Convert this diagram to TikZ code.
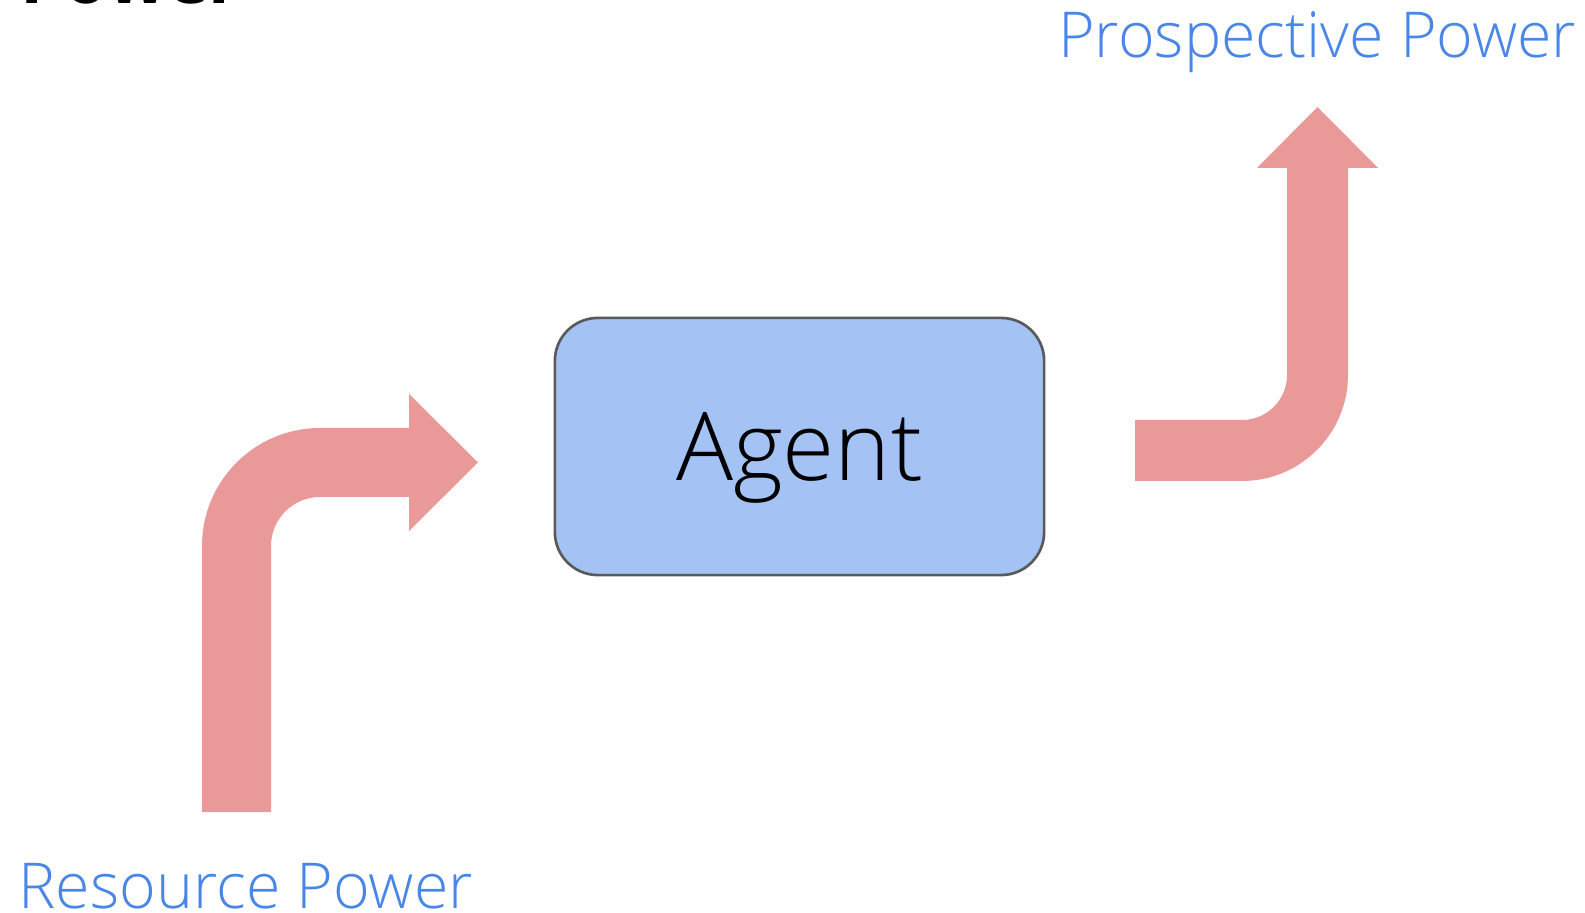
\documentclass[tikz,border=0pt]{standalone}
\usepackage{fontspec}
\setmainfont{Open Sans}
\newfontfamily\lightsans{Open Sans Light}
\usetikzlibrary{positioning}
\definecolor{arrowred}{HTML}{EA9999}
\definecolor{boxblue}{HTML}{A4C2F4}
\definecolor{boxline}{HTML}{595959}
\definecolor{labelblue}{HTML}{4A86E8}
\tikzset{>=stealth}
\tikzset{
  agentbox/.style={draw=boxline, line width=0.75pt, fill=boxblue, rounded corners=0.43cm,
    minimum width=4.89cm, minimum height=2.57cm, inner sep=0pt, text depth=0pt,
    font=\lightsans\fontsize{27}{30}\selectfont},
  powerlabel/.style={text=labelblue, inner sep=0pt, xscale=0.99,
    font=\lightsans\fontsize{18}{20}\selectfont},
  blockarrow/.style={fill=arrowred, draw=none}
}
\begin{document}
\begin{tikzpicture}[x=0.01cm, y=0.01cm]

			\useasboundingbox (0,0) rectangle (1585,912);
			\clip (0,0) rectangle (1585,912);

			\node[anchor=base west, inner sep=0pt, font=\bfseries\fontsize{20}{22}\selectfont] (title) at (20,908) {Power};

			\node[agentbox] (agent) at (799.5,465.5) {Agent};

			\node[powerlabel, anchor=base west] (res) at (18,4) {Resource Power};
			\node[powerlabel, anchor=base east] (pro) at (1577,854) {Prospective Power};

			% incoming
			\fill[blockarrow] (202,100) -- (202,366) arc[start angle=180, end angle=90, radius=118]
				-- (409,484) -- (409,518) -- (478,449.5) -- (409,381) -- (409,415) -- (320,415)
				arc[start angle=90, end angle=180, radius=49] -- (271,100) -- cycle;
			% outgoing
			\fill[blockarrow] (1135,431) -- (1242,431) arc[start angle=-90, end angle=0, radius=106]
				-- (1348,744) -- (1378,744) -- (1317.5,805) -- (1257,744) -- (1287,744) -- (1287,537)
				arc[start angle=0, end angle=-90, radius=45] -- (1135,492) -- cycle;

			\end{tikzpicture}
\end{document}
